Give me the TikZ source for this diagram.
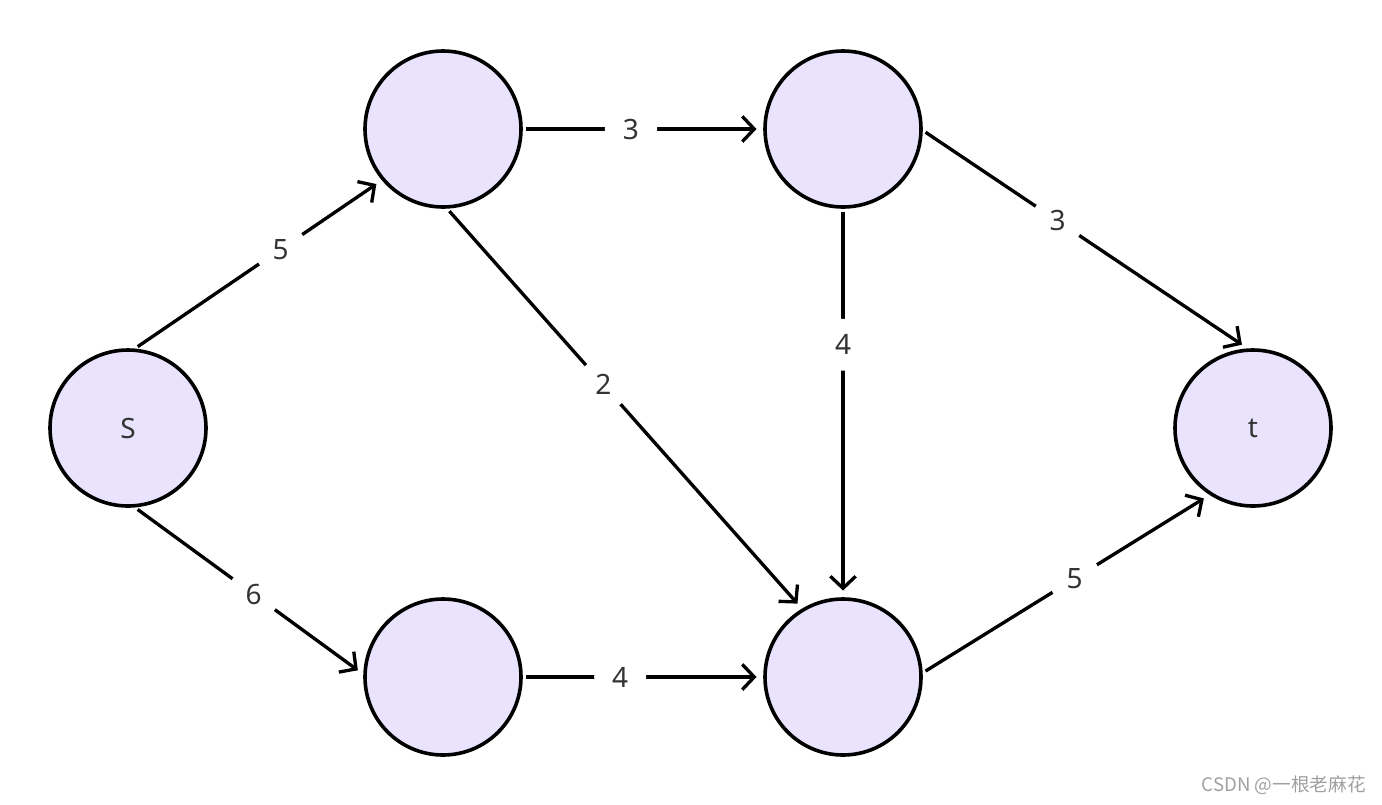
\documentclass[tikz,border=0pt]{standalone}
\usepackage{fontspec}
\setmainfont{Noto Sans}
\newfontfamily\cjkfont{Noto Sans CJK SC}
\usetikzlibrary{arrows.meta}
\definecolor{nodefill}{HTML}{E9E3FE}
\definecolor{labeltext}{HTML}{333333}
\definecolor{markgray}{HTML}{A0A0A0}

\begin{document}
\begin{tikzpicture}[x=0.75pt,y=0.75pt,yscale=-1,xscale=1,
  vertex/.style={circle,draw=black,line width=2.7pt,fill=nodefill,minimum size=117pt,inner sep=0pt,
    text=labeltext,font=\fontsize{21}{25}\selectfont},
  edge/.style={line width=2.5pt,-{Straight Barb[length=9pt,width=19pt,line width=2.5pt]},
    shorten <=2.5pt,shorten >=5pt},
  weight/.style={fill=white,circle,inner sep=7pt,text=labeltext,font=\fontsize{21}{25}\selectfont}]

\useasboundingbox (0,0) rectangle (1382,804);

% vertices
\node [vertex] (s) at (128,428) {S};
\node [vertex] (a) at (443,129) {};
\node [vertex] (b) at (843,129) {};
\node [vertex] (c) at (443,677) {};
\node [vertex] (d) at (843,677) {};
\node [vertex] (t) at (1253,428) {t};

% edges with capacities
\draw [edge] (s.85) -- (a.220) node [weight,pos=0.59] (w1) {5};
\draw [edge] (s.275) -- (c.178) node [weight,pos=0.52] (w2) {6};
\draw [edge] (a.0) -- (b.180) node [weight,pos=0.45] (w3) {3};
\draw [edge] (a.273) -- (d.121) node [weight,pos=0.44] (w4) {2};
\draw [edge] (b.270) -- (d.90) node [weight,pos=0.35] (w5) {4};
\draw [edge] (b.-1) -- (t.94) node [weight,pos=0.415] (w6) {3};
\draw [edge] (c.0) -- (d.180) node [weight,pos=0.405] (w7) {4};
\draw [edge] (d.3) -- (t.237) node [weight,pos=0.53] (w8) {5};

% watermark
\node [anchor=east,text=markgray,font=\fontsize{14}{16}\selectfont,inner sep=0pt] (mark) at (1366,785) {\cjkfont CSDN @一根老麻花};

\end{tikzpicture}
\end{document}
